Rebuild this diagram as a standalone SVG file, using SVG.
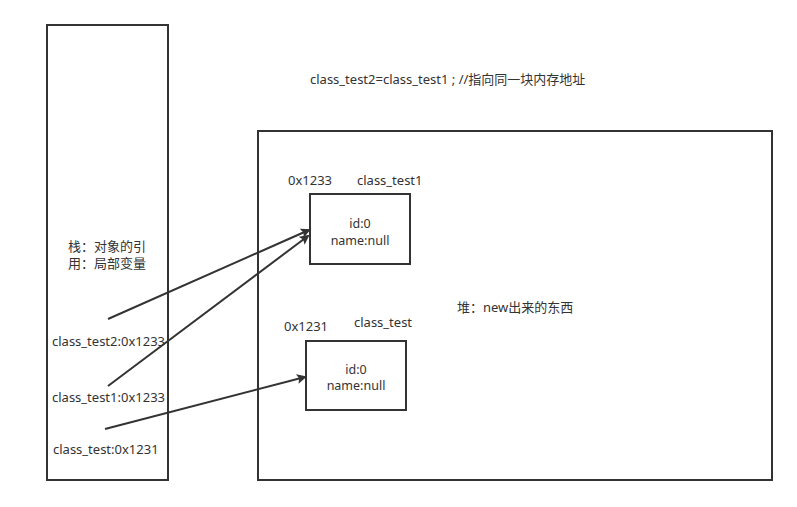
<svg xmlns="http://www.w3.org/2000/svg" width="797" height="507" viewBox="0 0 797 507">
<defs>
<style>
.box{fill:#fff;stroke:#333;stroke-width:2}
.t{font-family:"Noto Sans","Noto Sans CJK SC",sans-serif;font-size:13px;fill:#333}
.s{font-size:12.5px}
.m{text-anchor:middle}
.c{stroke:#333;stroke-width:2;fill:none;marker-end:url(#ah)}
</style>
<marker id="ah" markerWidth="10" markerHeight="10" refX="8" refY="5" orient="auto" markerUnits="userSpaceOnUse" viewBox="0 0 10 10">
<path d="M0,0 L10,5 L0,10 L2,5 z" fill="#333"/>
</marker>
</defs>
<rect width="797" height="507" fill="#fff"/>
<g id="stack">
<rect class="box" x="47" y="25" width="121" height="455"/>
<text class="t m" x="107" y="251">栈：对象的引</text>
<text class="t m" x="107" y="268">用：局部变量</text>
<text class="t" x="52" y="346">class_test2:0x1233</text>
<text class="t" x="52" y="402">class_test1:0x1233</text>
<text class="t" x="53" y="454">class_test:0x1231</text>
</g>
<g id="note">
<text class="t" x="310" y="84">class_test2=class_test1 ; //指向同一块内存地址</text>
</g>
<g id="heap">
<rect class="box" x="258" y="131" width="514" height="349"/>
<text class="t" x="457" y="312">堆：new出来的东西</text>
</g>
<g id="obj1">
<text class="t" x="288" y="185">0x1233</text>
<text class="t" x="357" y="185">class_test1</text>
<rect class="box" x="310" y="194" width="100" height="70"/>
<text class="t s m" x="360" y="228">id:0</text>
<text class="t s m" x="360" y="245">name:null</text>
</g>
<g id="obj2">
<text class="t" x="284" y="331">0x1231</text>
<text class="t" x="354" y="327">class_test</text>
<rect class="box" x="306" y="341" width="100" height="69"/>
<text class="t s m" x="356" y="374">id:0</text>
<text class="t s m" x="356" y="390">name:null</text>
</g>
<g id="connectors">
<path class="c" d="M108,319 L309,230"/>
<path class="c" d="M108,386 L308,236"/>
<path class="c" d="M105,429 L305,377"/>
</g>
</svg>
